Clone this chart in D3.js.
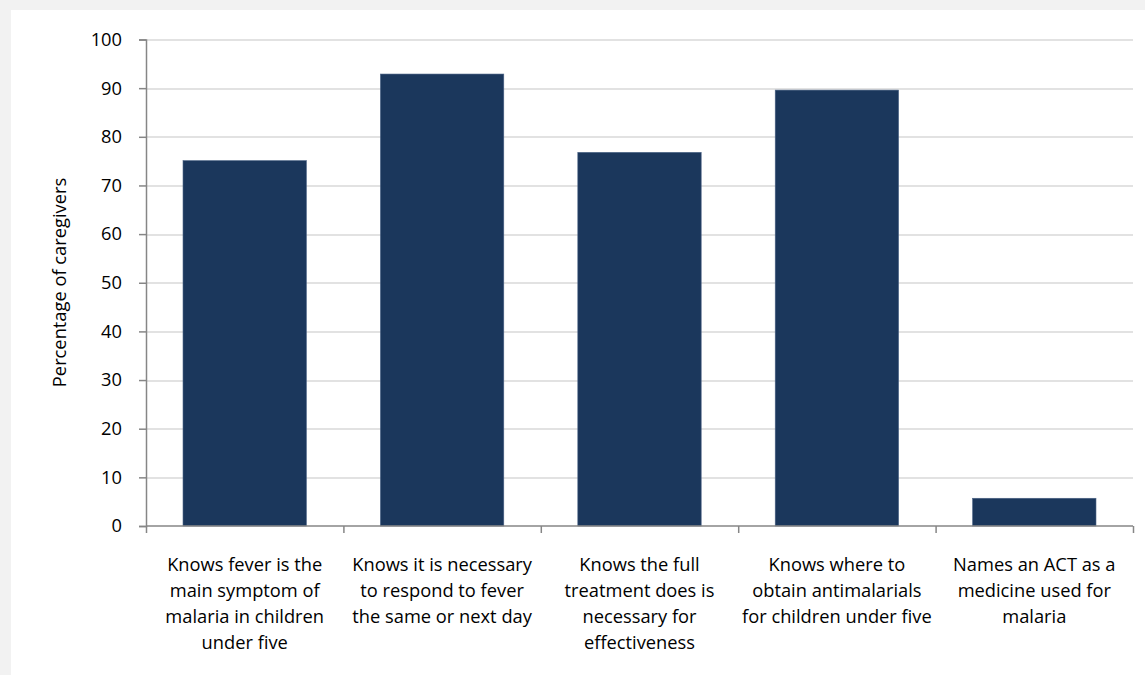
<!DOCTYPE html>
<html>
<head>
<meta charset="utf-8">
<script src="https://cdn.jsdelivr.net/npm/d3@7"></script>
<style>
  html, body { margin: 0; padding: 0; background: #f2f2f2; }
  svg { display: block; }
  text { font-family: "Open Sans", Lato, sans-serif; fill: #000; }
</style>
</head>
<body>
<div id="chart"></div>
<script>
// categories and values
const categories = [
    ["Knows fever is the", "main symptom of", "malaria in children", "under five"],
    ["Knows it is necessary", "to respond to fever", "the same or next day"],
    ["Knows the full", "treatment does is", "necessary for", "effectiveness"],
    ["Knows where to", "obtain antimalarials", "for children under five"],
    ["Names an ACT as a", "medicine used for", "malaria"]
];
const values = [75.1, 92.9, 76.8, 89.6, 5.7];
const yTicks = [0, 10, 20, 30, 40, 50, 60, 70, 80, 90, 100];
const yTitle = "Percentage of caregivers";

const W = 1145, H = 675;
const margin = { top: 39.5, right: 12, bottom: 149, left: 146 };
const width = W - margin.left - margin.right;
const height = H - margin.top - margin.bottom;
const fontSize = "18.3px";

const root = d3.select("#chart").append("svg")
    .attr("width", W)
    .attr("height", H);

// white panel, grey strip on top/left
root.append("rect")
    .attr("x", 11).attr("y", 10)
    .attr("width", W - 11).attr("height", H - 10)
    .attr("fill", "#fff");

const svg = root.append("g")
    .attr("transform", `translate(${margin.left},${margin.top})`);

const keys = categories.map((c, i) => i);

const x = d3.scaleBand()
    .domain(keys)
    .range([0, width])
    .paddingInner(0.375)
    .paddingOuter(0.1875);

const xTickScale = d3.scaleLinear().domain([0, keys.length]).range([0, width]);

const y = d3.scaleLinear()
    .domain([0, 100])
    .range([height, 0]);

// gridlines
svg.append("g")
    .selectAll("line")
    .data(yTicks.filter(d => d > 0))
    .enter()
    .append("line")
    .attr("x1", 0).attr("x2", width)
    .attr("y1", d => Math.round(y(d)) + 0.5)
    .attr("y2", d => Math.round(y(d)) + 0.5)
    .attr("stroke", "#d9d9d9")
    .attr("stroke-width", 1.5);

// bars
svg.selectAll(".bar")
    .data(values)
    .enter()
    .append("rect")
    .attr("class", "bar")
    .attr("x", (d, i) => x(i))
    .attr("width", x.bandwidth())
    .attr("y", d => y(d))
    .attr("height", d => y(0) - y(d))
    .attr("fill", "#1b375c")
    .attr("stroke", "#4a6285")
    .attr("stroke-width", 0.6);

// y axis
const yAxis = svg.append("g")
    .call(d3.axisLeft(y).tickValues(yTicks).tickSize(7).tickPadding(17).tickFormat(d3.format("d")));
yAxis.select(".domain").attr("stroke", "#868686").attr("stroke-width", 1.5);
yAxis.selectAll(".tick line").attr("stroke", "#868686").attr("stroke-width", 1.5);
yAxis.selectAll(".tick text").style("font-size", fontSize).attr("fill", "#000");

// x axis: ticks between categories
const xAxis = svg.append("g")
    .attr("transform", `translate(0,${height})`)
    .call(d3.axisBottom(xTickScale).tickValues(d3.range(keys.length + 1)).tickSize(7).tickFormat(""));
xAxis.select(".domain").attr("stroke", "#868686").attr("stroke-width", 1.5)
    .attr("d", `M0,0H${width}`);
xAxis.selectAll(".tick line").attr("stroke", "#868686").attr("stroke-width", 1.5);

// category labels
svg.selectAll(".cat-label")
    .data(categories)
    .enter()
    .append("text")
    .attr("class", "cat-label")
    .attr("text-anchor", "middle")
    .style("font-size", fontSize)
    .each(function(lines, i) {
        const t = d3.select(this);
        lines.forEach((ln, j) => {
            t.append("tspan")
                .attr("x", x(i) + x.bandwidth() / 2)
                .attr("y", height + 44.5 + j * 26)
                .text(ln);
        });
    });

// y axis title
svg.append("text")
    .attr("transform", "rotate(-90)")
    .attr("x", -(282.5 - margin.top))
    .attr("y", 59 - margin.left + 6.5)
    .attr("text-anchor", "middle")
    .style("font-size", fontSize)
    .text(yTitle);
</script>
</body>
</html>
